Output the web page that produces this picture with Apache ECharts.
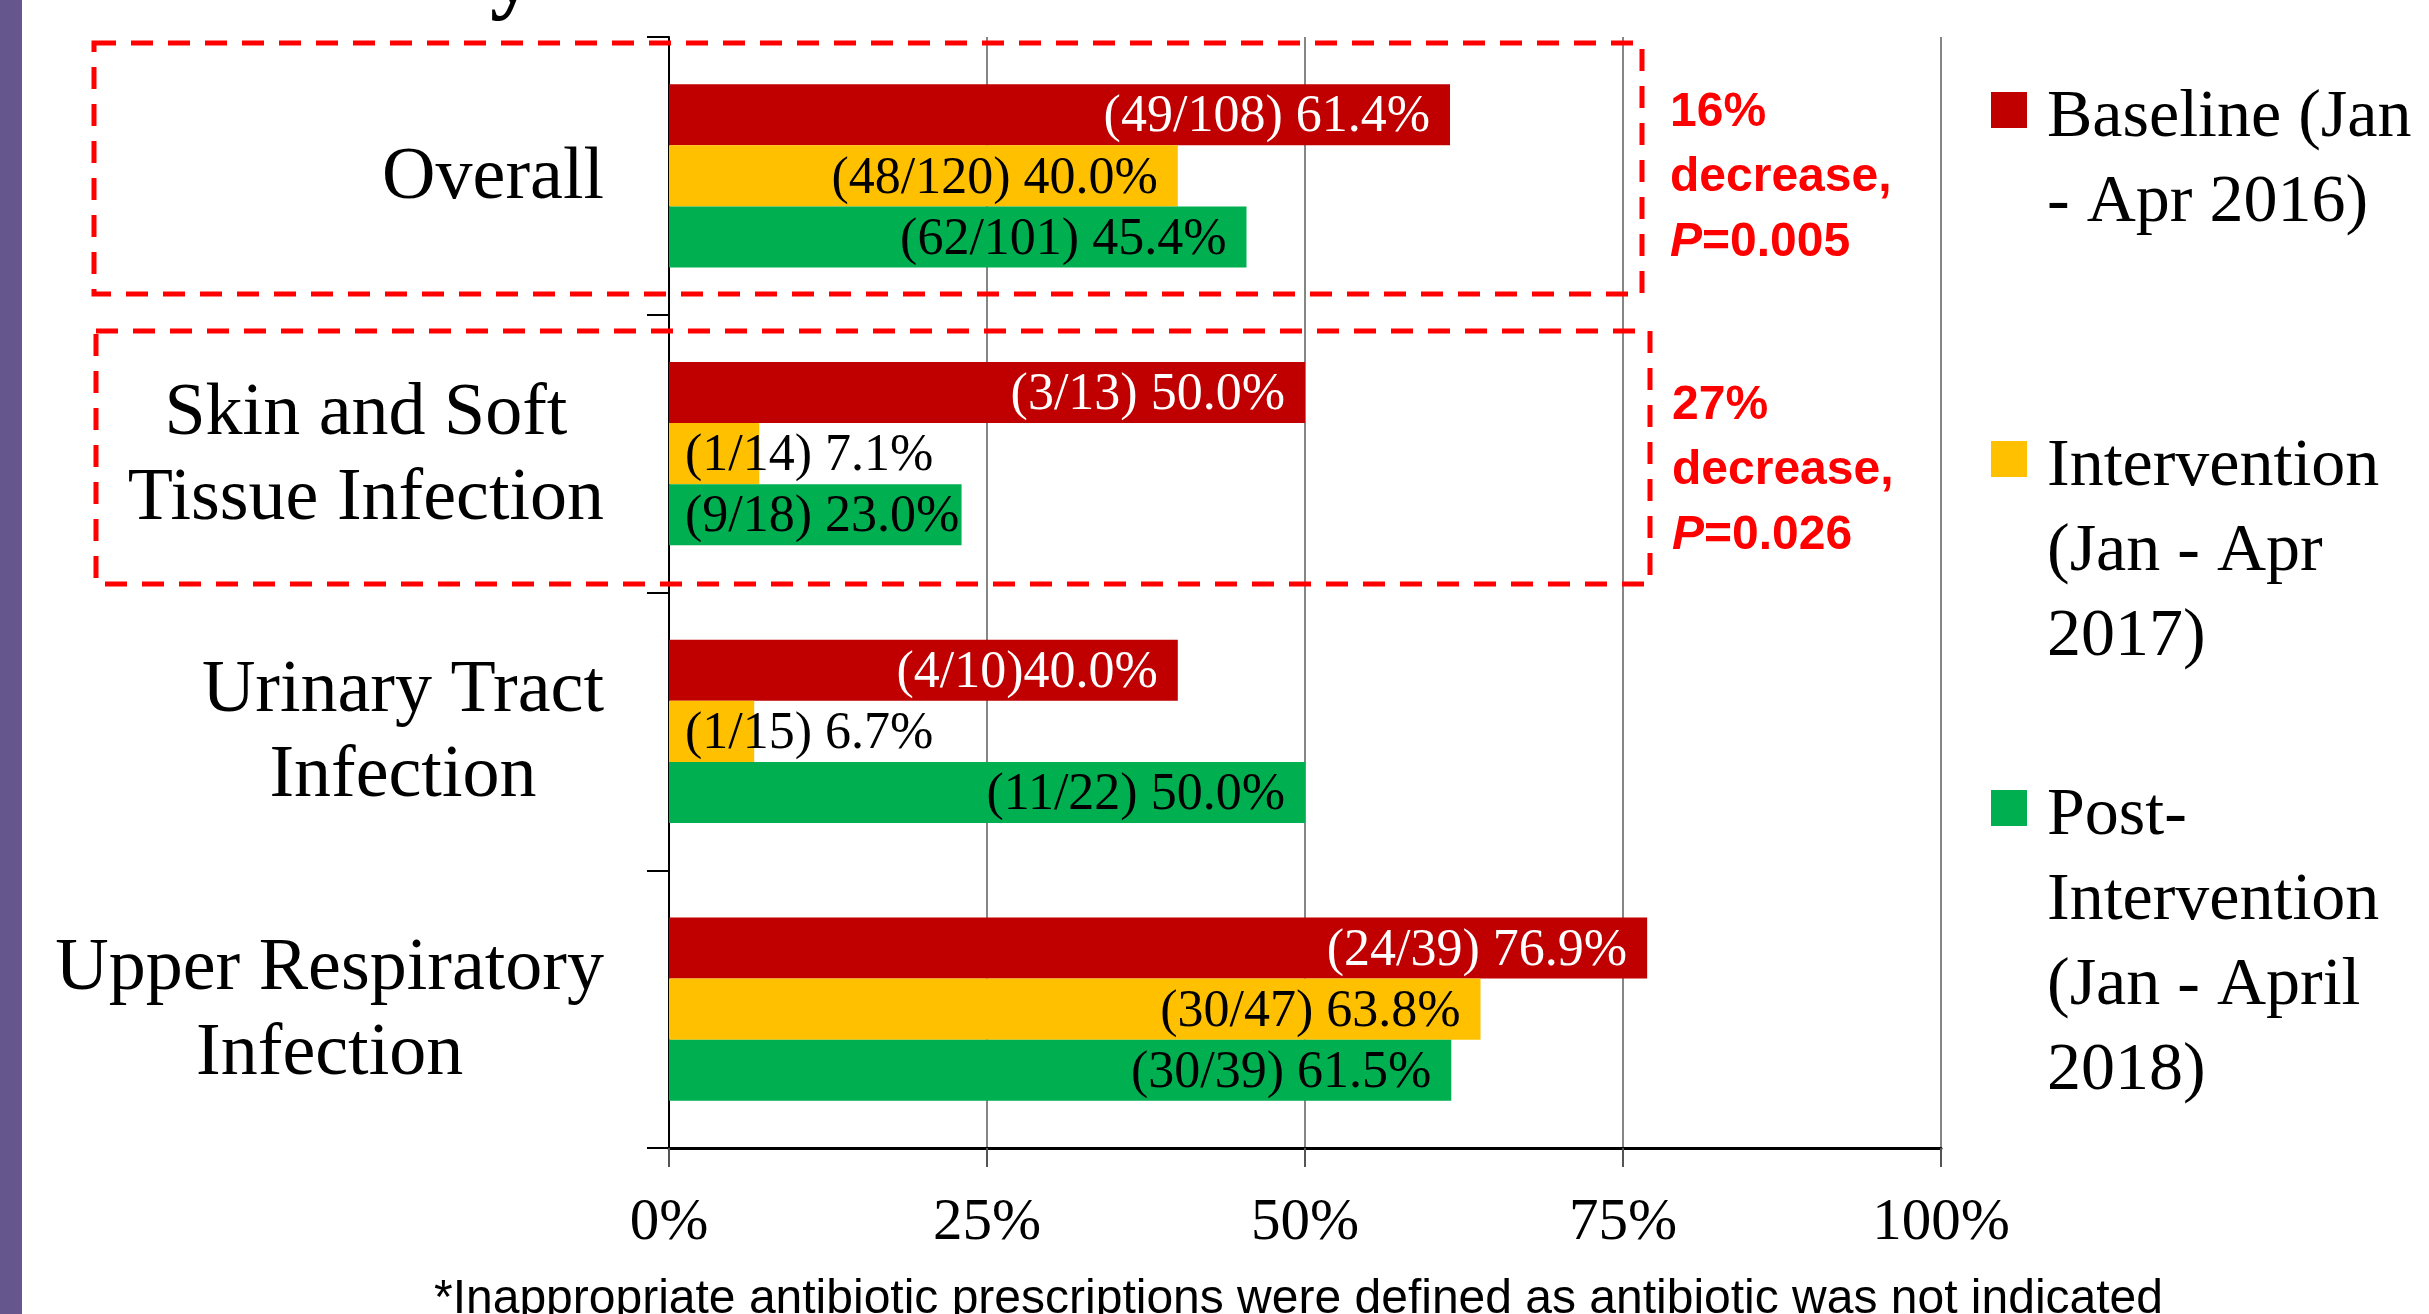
<!DOCTYPE html>
<html>
<head>
<meta charset="utf-8">
<title>Inappropriate antibiotic prescriptions</title>
<script src="https://cdn.jsdelivr.net/npm/echarts@6.0.0/dist/echarts.min.js"></script>
<style>
  html, body { margin: 0; padding: 0; background: #fff; }
  #chart { width: 2429px; height: 1314px; }
</style>
</head>
<body>
<div id="chart"></div>
<script>
// categories, top to bottom
const categories = ['Overall', 'Skin and Soft\nTissue Infection', 'Urinary Tract\nInfection', 'Upper Respiratory\nInfection'];

const seriesNames = ['Baseline (Jan - Apr 2016)', 'Intervention (Jan - Apr 2017)', 'Post-Intervention (Jan - April 2018)'];
const legendLabels = ['Baseline (Jan\n- Apr 2016)', 'Intervention\n(Jan - Apr\n2017)', 'Post-\nIntervention\n(Jan - April\n2018)'];

// % of prescriptions judged inappropriate
const baseline = [61.4, 50.0, 40.0, 76.9];
const intervention = [40.0, 7.1, 6.7, 63.8];
const postIntervention = [45.4, 23.0, 50.0, 61.5];

// bar labels as printed on the slide
const baselineLabels = ['(49/108) 61.4%', '(3/13) 50.0%', '(4/10)40.0%', '(24/39) 76.9%'];
const interventionLabels = ['(48/120) 40.0%', '(1/14) 7.1%', '(1/15) 6.7%', '(30/47) 63.8%'];
const postLabels = ['(62/101) 45.4%', '(9/18) 23.0%', '(11/22) 50.0%', '(30/39) 61.5%'];

const xTicks = [0, 25, 50, 75, 100];

const colors = ['#C00000', '#FFC000', '#00B050'];
const labelColors = ['#fff', '#000', '#000'];
const serif = 'Liberation Serif';
const sans = 'Liberation Sans';

const chart = echarts.init(document.getElementById('chart'));

const makeSeries = (idx, values, labels) => ({
  name: seriesNames[idx],
  type: 'bar',
  barGap: '0%',
  barCategoryGap: '34%',
  itemStyle: { color: colors[idx] },
  label: {
    show: true,
    position: 'insideRight',
    distance: 20,
    offset: [0, 3],
    color: labelColors[idx],
    fontFamily: serif,
    fontSize: 52,
    formatter: p => labels[p.dataIndex]
  },
  // short bars: label starts at the axis instead
  data: values.map(v => v < 25
    ? { value: v, label: { position: 'insideLeft', distance: 16, color: '#000' } }
    : v)
});

// legend: one block per series, square beside the first line.
// a spacer line on top keeps the first text line level with the square
const legendIconY = [111, 460, 809];
const LH = 85;
const nudge = 16;
const legends = legendLabels.map((txt, i) => {
  const lines = txt.split('\n');
  const n = lines.length;
  const spacer = (n - 1) * LH + nudge;
  return {
    data: [seriesNames[i]],
    formatter: () => '{b| }\n' + lines.map(l => '{t|' + l + '}').join('\n'),
    orient: 'vertical',
    left: 1991,
    top: legendIconY[i] - (n * LH + 10) / 2,
    padding: 0,
    icon: 'rect',
    itemWidth: 36,
    itemHeight: 36,
    selectedMode: false,
    textStyle: {
      padding: [0, 0, 0, 15],
      rich: {
        b: { fontSize: 8, lineHeight: spacer },
        t: { fontFamily: serif, fontSize: 68, lineHeight: LH, color: '#000' }
      }
    }
  };
});

const noteStyle = {
  n: { fontFamily: sans, fontWeight: 'bold', fontSize: 48, lineHeight: 65, fill: '#FF0000' },
  i: { fontFamily: sans, fontWeight: 'bold', fontStyle: 'italic', fontSize: 48, lineHeight: 65, fill: '#FF0000' }
};
const boxStyle = { fill: 'none', stroke: '#FF0000', lineWidth: 5, lineDash: [22, 15] };

chart.setOption({
  animation: false,
  backgroundColor: '#fff',
  textStyle: { fontFamily: serif },
  grid: { left: 669, right: 488, top: 37, bottom: 166, outerBoundsMode: 'none' },
  legend: legends,
  xAxis: {
    type: 'value',
    min: xTicks[0],
    max: xTicks[xTicks.length - 1],
    interval: xTicks[1] - xTicks[0],
    axisLine: { show: true, lineStyle: { color: '#000', width: 3 } },
    axisTick: { show: true, length: 19, lineStyle: { color: '#555', width: 2 } },
    axisLabel: { margin: 46, color: '#000', fontFamily: serif, fontSize: 59, formatter: '{value}%' },
    splitLine: { show: true, lineStyle: { color: '#868686', width: 2 } }
  },
  yAxis: {
    type: 'category',
    inverse: true,
    data: categories,
    axisLine: { show: true, lineStyle: { color: '#000', width: 2 } },
    axisTick: { show: true, length: 22, lineStyle: { color: '#000', width: 2 } },
    axisLabel: {
      margin: 65,
      color: '#000',
      formatter: v => v.split('\n').map(s => '{c|' + s + '}').join('\n'),
      rich: { c: { align: 'center', fontFamily: serif, fontSize: 74, lineHeight: 85, color: '#000', padding: [6, 0, 0, 0] } }
    },
    splitLine: { show: false }
  },
  series: [
    makeSeries(0, baseline, baselineLabels),
    makeSeries(1, intervention, interventionLabels),
    makeSeries(2, postIntervention, postLabels)
  ],
  graphic: [
    // purple slide edge
    { type: 'rect', left: 0, top: 0, z: 50, shape: { width: 22, height: 1314 }, style: { fill: '#66568E' } },
    // tail of the slide title, mostly off the top edge
    { type: 'text', x: 490, y: -21, z: 50, style: { text: 'y', fontFamily: serif, fontWeight: 'bold', fontSize: 90, fill: '#000', verticalAlign: 'middle' } },
    // dashed highlight boxes
    { type: 'rect', z: 100, shape: { x: 94, y: 43, width: 1548, height: 251 }, style: boxStyle },
    { type: 'rect', z: 100, shape: { x: 96, y: 331, width: 1554, height: 253 }, style: boxStyle },
    { type: 'text', x: 1670, y: 178, z: 100, style: { text: '{n|16%}\n{n|decrease,}\n{i|P}{n|=0.005}', rich: noteStyle, verticalAlign: 'middle', align: 'left' } },
    { type: 'text', x: 1672, y: 471, z: 100, style: { text: '{n|27%}\n{n|decrease,}\n{i|P}{n|=0.026}', rich: noteStyle, verticalAlign: 'middle', align: 'left' } },
    // footnote
    { type: 'text', x: 434, y: 1300, z: 100, style: { text: '*Inappropriate antibiotic prescriptions were defined as antibiotic was not indicated', fontFamily: sans, fontSize: 48, fill: '#000', verticalAlign: 'middle', align: 'left' } }
  ]
});

window.addEventListener('resize', () => chart.resize());
</script>
</body>
</html>
